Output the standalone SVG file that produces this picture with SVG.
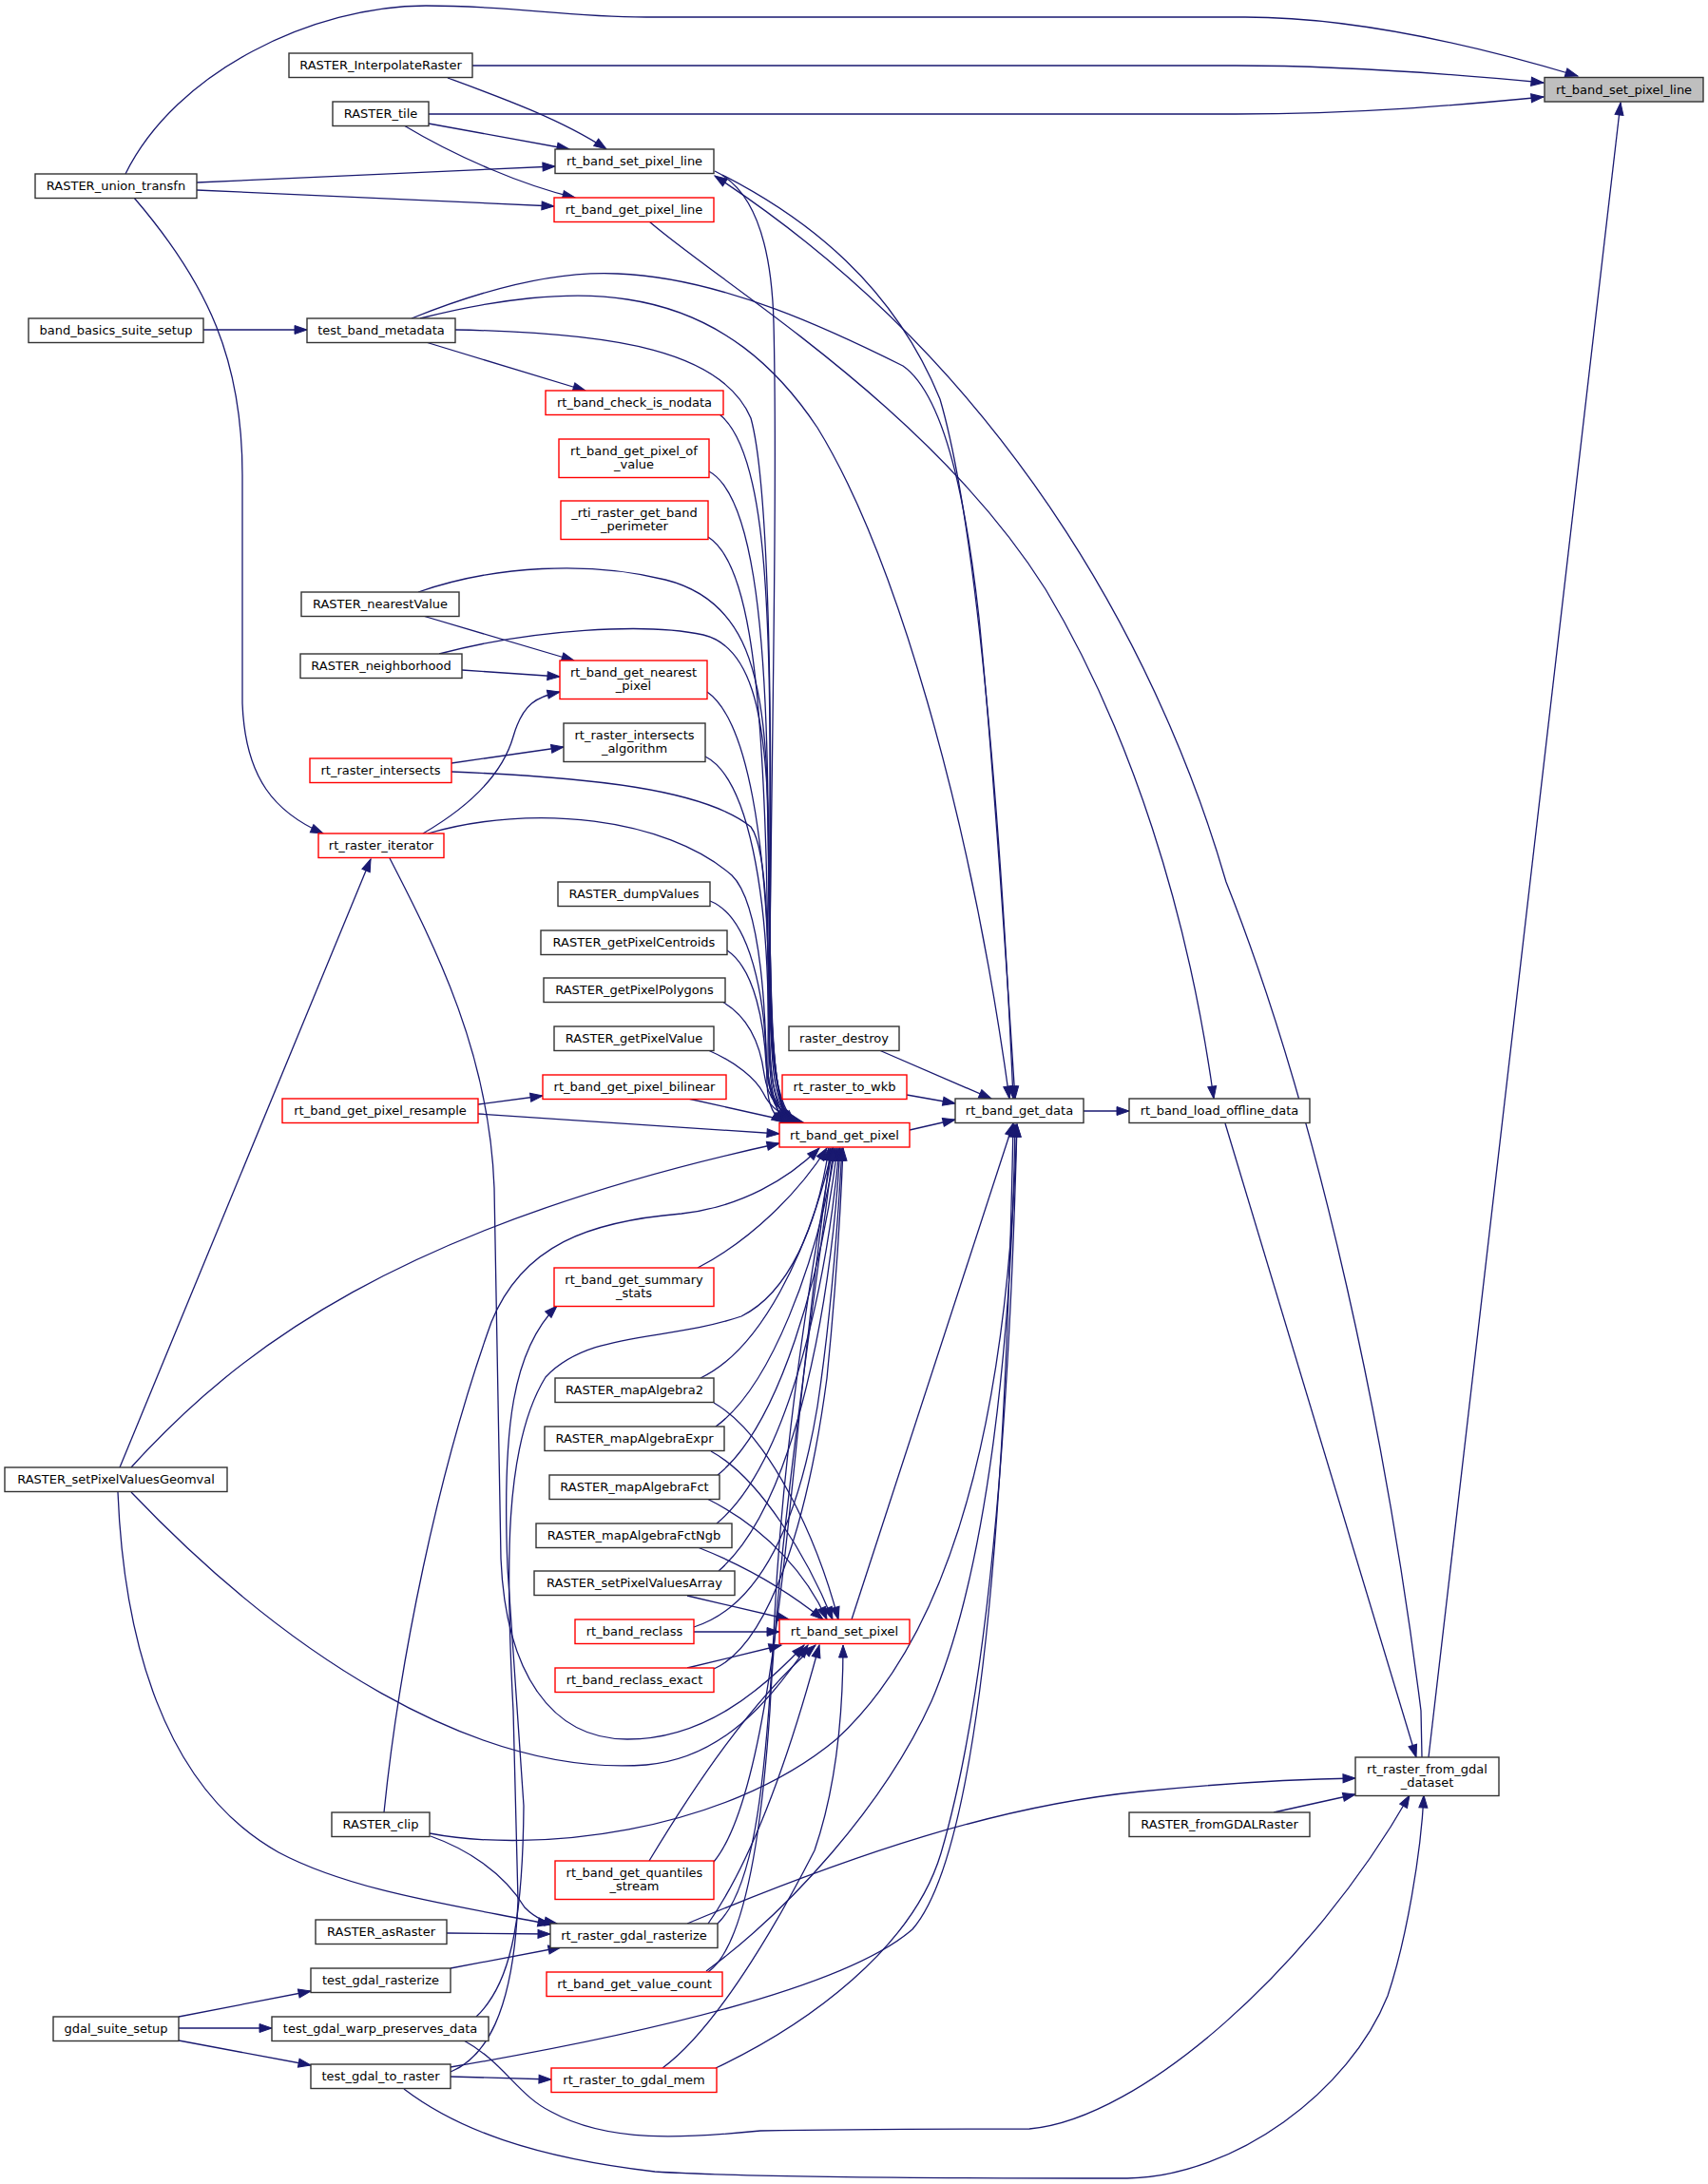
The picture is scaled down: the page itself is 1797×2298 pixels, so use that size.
<svg xmlns="http://www.w3.org/2000/svg" width="1797" height="2298" viewBox="0 0 1797 2298">
<style>
.e{fill:none;stroke:#191970;stroke-width:1.3;marker-end:url(#a)}
.nb{fill:#fff;stroke:#333;stroke-width:1.4}
.nr{fill:#fff;stroke:#ff0000;stroke-width:1.4}
.ng{fill:#bfbfbf;stroke:#333;stroke-width:1.4}
text{font-family:"DejaVu Sans","Liberation Sans",sans-serif;font-size:13px;fill:#000;text-anchor:middle}
</style>
<defs>
<marker id="a" markerUnits="userSpaceOnUse" markerWidth="14" markerHeight="10" refX="13" refY="5" orient="auto" overflow="visible">
<path d="M0,0.5 L13,5 L0,9.5 Z" fill="#191970" stroke="#191970" stroke-width="1"/>
</marker>
</defs>
<rect width="1797" height="2298" fill="#fff"/>
<g id="edges">
<path class="e" d="M132,183 C185,75 330,6 448,6 C545,6 590,18 680,18 L1310,18 C1430,18 1560,50 1660,80"/>
<path class="e" d="M497,69 L1300,69 C1420,69 1530,78 1624,87"/>
<path class="e" d="M451,120 L1300,120 C1430,120 1530,111 1624,102"/>
<path class="e" d="M1503,1849 L1705,108"/>
<path class="e" d="M471,82 C520,100 590,125 638,157"/>
<path class="e" d="M451,130 L599,157"/>
<path class="e" d="M207,192 L584,175"/>
<path class="e" d="M1496,1849 L1495,1800 C1460,1520 1390,1180 1290,928 C1230,720 1080,400 752,185"/>
<path class="e" d="M425,132 C480,165 550,195 605,208"/>
<path class="e" d="M207,200 L583,217"/>
<path class="e" d="M683,233 C760,300 980,430 1100,620 C1190,770 1250,960 1277,1156"/>
<path class="e" d="M752,180 C795,200 812,260 814,340 C818,500 812,800 810,1000 C808,1100 806,1160 826,1181"/>
<path class="e" d="M760,184 C850,230 940,300 989,420 C1030,560 1055,900 1066,1156"/>
<path class="e" d="M1289,1182 L1490,1849"/>
<path class="e" d="M1140,1169 L1188,1169"/>
<path class="e" d="M957,1189 L1005,1178"/>
<path class="e" d="M954,1152 L1005,1161"/>
<path class="e" d="M925,1105 L1043,1156"/>
<path class="e" d="M896,1704 L1066,1182"/>
<path class="e" d="M214,347 L323,347"/>
<path class="e" d="M448,360 L616,411"/>
<path class="e" d="M433,335 C520,300 590,285 650,288 C760,292 880,350 950,385 C1000,420 1020,560 1030,650 C1045,800 1058,1000 1068,1156"/>
<path class="e" d="M442,335 C520,315 600,305 660,315 C760,330 820,390 860,450 C940,580 1020,850 1062,1156"/>
<path class="e" d="M479,347 C650,350 760,370 790,440 C812,520 812,800 810,1000 C808,1100 808,1160 830,1181"/>
<path class="e" d="M757,436 C800,470 810,600 810,800 C810,1000 806,1150 832,1181"/>
<path class="e" d="M746,496 C790,520 806,650 808,850 C810,1050 806,1150 834,1181"/>
<path class="e" d="M745,565 C785,590 800,700 806,900 C810,1050 806,1150 836,1181"/>
<path class="e" d="M440,623 C520,595 620,590 700,610 C780,630 800,700 806,800 C812,950 806,1140 828,1181"/>
<path class="e" d="M445,648 L604,695"/>
<path class="e" d="M462,688 C560,662 680,655 740,668 C790,680 804,750 808,850 C812,1000 806,1140 830,1181"/>
<path class="e" d="M486,705 L589,712"/>
<path class="e" d="M744,728 C790,760 804,900 808,1000 C812,1100 808,1160 836,1181"/>
<path class="e" d="M445,877 C500,845 530,810 540,775 C550,740 565,733 589,728"/>
<path class="e" d="M450,877 C560,845 700,860 770,921 C805,955 806,1100 807,1140 C808,1165 815,1175 825,1181"/>
<path class="e" d="M475,803 L593,786"/>
<path class="e" d="M475,812 C620,818 740,830 790,870 C812,900 808,1050 808,1120 C808,1160 820,1175 834,1181"/>
<path class="e" d="M742,796 C790,820 806,950 808,1050 C810,1120 808,1160 836,1181"/>
<path class="e" d="M747,948 C790,965 804,1050 806,1110 C808,1150 818,1170 838,1181"/>
<path class="e" d="M765,1000 C795,1020 804,1080 806,1120 C808,1155 820,1172 840,1181"/>
<path class="e" d="M760,1054 C788,1070 800,1100 804,1130 C808,1158 822,1173 842,1181"/>
<path class="e" d="M745,1105 C775,1118 795,1135 803,1150 C810,1165 825,1176 845,1181"/>
<path class="e" d="M724,1156 L836,1181"/>
<path class="e" d="M503,1162 L571,1153"/>
<path class="e" d="M503,1172 L820,1193"/>
<path class="e" d="M141,208 C220,300 255,380 255,500 L255,740 C258,820 290,855 340,877"/>
<path class="e" d="M126,1544 L390,904"/>
<path class="e" d="M138,1544 C250,1420 420,1290 820,1203"/>
<path class="e" d="M124,1570 C130,1720 170,1880 293,1949 C370,1990 480,2005 579,2025"/>
<path class="e" d="M138,1570 C300,1740 500,1870 680,1857 C760,1850 810,1790 850,1731"/>
<path class="e" d="M410,903 C460,1000 515,1110 520,1250 L527,1640 C532,1760 580,1830 660,1830 C740,1830 800,1780 846,1731"/>
<path class="e" d="M734,1334 C790,1305 840,1255 870,1208"/>
<path class="e" d="M737,1450 C800,1420 850,1320 876,1208"/>
<path class="e" d="M753,1501 C810,1460 860,1330 879,1208"/>
<path class="e" d="M755,1552 C820,1500 865,1340 881,1208"/>
<path class="e" d="M754,1603 C830,1540 870,1350 883,1208"/>
<path class="e" d="M756,1653 C840,1580 875,1360 884,1208"/>
<path class="e" d="M730,1712 C800,1690 840,1600 860,1480 C875,1380 882,1280 886,1208"/>
<path class="e" d="M751,1756 C810,1730 850,1600 870,1450 C880,1350 885,1260 887,1208"/>
<path class="e" d="M723,1755 L822,1731"/>
<path class="e" d="M730,1717 L820,1717"/>
<path class="e" d="M723,1679 L830,1704"/>
<path class="e" d="M734,1628 C790,1650 830,1675 866,1704"/>
<path class="e" d="M744,1577 C810,1610 850,1660 870,1704"/>
<path class="e" d="M748,1527 C800,1555 850,1640 876,1704"/>
<path class="e" d="M751,1476 C810,1510 860,1620 882,1704"/>
<path class="e" d="M697,2176 C760,2130 830,2000 857,1947 C880,1880 887,1800 887,1731"/>
<path class="e" d="M501,2122 C535,2090 550,2030 551,1900 L534,1650 C528,1500 540,1420 586,1374"/>
<path class="e" d="M474,2180 C510,2165 540,2120 545,2000 L540,1800 C532,1650 530,1520 574,1449 C620,1400 700,1412 780,1385 C830,1360 860,1290 872,1208"/>
<path class="e" d="M404,1907 C420,1750 460,1550 517,1391 C550,1310 620,1285 717,1277 C780,1270 830,1240 862,1208"/>
<path class="e" d="M452,1929 C560,1950 760,1930 880,1830 C1000,1720 1060,1500 1070,1183"/>
<path class="e" d="M453,1932 C490,1945 530,1970 552,2007 C565,2020 575,2022 586,2024"/>
<path class="e" d="M683,1958 C730,1880 790,1790 858,1731"/>
<path class="e" d="M751,1959 C800,1900 820,1700 840,1500 C855,1350 868,1260 874,1208"/>
<path class="e" d="M755,2024 C790,1990 805,1900 815,1700 C825,1500 860,1300 876,1208"/>
<path class="e" d="M745,2024 C790,1960 830,1850 862,1731"/>
<path class="e" d="M723,2024 C900,1950 1050,1900 1200,1885 C1300,1875 1370,1872 1426,1871"/>
<path class="e" d="M743,2074 C830,2010 930,1900 980,1790 C1040,1650 1065,1400 1068,1183"/>
<path class="e" d="M745,2075 C780,2050 800,1950 810,1800 C820,1600 860,1350 877,1208"/>
<path class="e" d="M753,2176 C850,2130 960,2050 990,1950 C1040,1780 1062,1500 1070,1183"/>
<path class="e" d="M474,2175 C620,2150 880,2100 960,2030 C1030,1950 1058,1600 1066,1183"/>
<path class="e" d="M474,2185 L580,2188"/>
<path class="e" d="M425,2198 C480,2240 560,2270 689,2285 C800,2292 1100,2292 1186,2292 C1300,2290 1420,2200 1460,2100 C1480,2040 1495,1950 1498,1889"/>
<path class="e" d="M488,2147 C530,2170 545,2205 580,2222 C640,2255 720,2250 800,2242 C900,2240 1000,2240 1083,2240 C1200,2230 1380,2070 1483,1889"/>
<path class="e" d="M188,2122 L327,2095"/>
<path class="e" d="M188,2134 L286,2134"/>
<path class="e" d="M188,2147 L327,2173"/>
<path class="e" d="M474,2071 L590,2049"/>
<path class="e" d="M470,2034 L579,2035"/>
<path class="e" d="M1340,1907 L1426,1888"/>
</g>
<g id="n_G"><rect class="ng" x="1625" y="81.5" width="167" height="25.5"/><text x="1708.5" y="98.5">rt_band_set_pixel_line</text></g>
<g id="n_IR"><rect class="nb" x="304" y="56" width="193" height="25.5"/><text x="400.5" y="73">RASTER_InterpolateRaster</text></g>
<g id="n_TL"><rect class="nb" x="350" y="107" width="101" height="25.5"/><text x="400.5" y="124">RASTER_tile</text></g>
<g id="n_W"><rect class="nb" x="584" y="157" width="167" height="25.5"/><text x="667.5" y="174">rt_band_set_pixel_line</text></g>
<g id="n_UT"><rect class="nb" x="37" y="183" width="170" height="25.5"/><text x="122" y="200">RASTER_union_transfn</text></g>
<g id="n_GPL"><rect class="nr" x="583" y="208" width="168" height="25.5"/><text x="667" y="225">rt_band_get_pixel_line</text></g>
<g id="n_BB"><rect class="nb" x="30" y="335" width="184" height="25.5"/><text x="122" y="352">band_basics_suite_setup</text></g>
<g id="n_TBM"><rect class="nb" x="323" y="335" width="156" height="25.5"/><text x="401" y="352">test_band_metadata</text></g>
<g id="n_CN"><rect class="nr" x="574" y="411" width="187" height="25.5"/><text x="667.5" y="428">rt_band_check_is_nodata</text></g>
<g id="n_POV"><rect class="nr" x="588" y="462" width="158" height="40.5"/><text x="667" y="478.5">rt_band_get_pixel_of</text><text x="667" y="492.5">_value</text></g>
<g id="n_PER"><rect class="nr" x="590" y="527" width="155" height="40.5"/><text x="667.5" y="543.5">_rti_raster_get_band</text><text x="667.5" y="557.5">_perimeter</text></g>
<g id="n_NV"><rect class="nb" x="317" y="623" width="166" height="25.5"/><text x="400" y="640">RASTER_nearestValue</text></g>
<g id="n_NB"><rect class="nb" x="316" y="688" width="170" height="25.5"/><text x="401" y="705">RASTER_neighborhood</text></g>
<g id="n_NP"><rect class="nr" x="589" y="695" width="155" height="40.5"/><text x="666.5" y="711.5">rt_band_get_nearest</text><text x="666.5" y="725.5">_pixel</text></g>
<g id="n_IA"><rect class="nb" x="593" y="761" width="149" height="40.5"/><text x="667.5" y="777.5">rt_raster_intersects</text><text x="667.5" y="791.5">_algorithm</text></g>
<g id="n_RI"><rect class="nr" x="326" y="798" width="149" height="25.5"/><text x="400.5" y="815">rt_raster_intersects</text></g>
<g id="n_IT"><rect class="nr" x="335" y="877" width="132" height="25.5"/><text x="401" y="894">rt_raster_iterator</text></g>
<g id="n_DV"><rect class="nb" x="587" y="928" width="160" height="25.5"/><text x="667" y="945">RASTER_dumpValues</text></g>
<g id="n_PC"><rect class="nb" x="569" y="979" width="196" height="25.5"/><text x="667" y="996">RASTER_getPixelCentroids</text></g>
<g id="n_PP"><rect class="nb" x="572" y="1029" width="191" height="25.5"/><text x="667.5" y="1046">RASTER_getPixelPolygons</text></g>
<g id="n_PV"><rect class="nb" x="583" y="1080" width="168" height="25.5"/><text x="667" y="1097">RASTER_getPixelValue</text></g>
<g id="n_RD"><rect class="nb" x="830" y="1080" width="116" height="25.5"/><text x="888" y="1097">raster_destroy</text></g>
<g id="n_WKB"><rect class="nr" x="823" y="1131" width="131" height="25.5"/><text x="888.5" y="1148">rt_raster_to_wkb</text></g>
<g id="n_BIL"><rect class="nr" x="571" y="1131" width="193" height="25.5"/><text x="667.5" y="1148">rt_band_get_pixel_bilinear</text></g>
<g id="n_RES"><rect class="nr" x="297" y="1156" width="206" height="25.5"/><text x="400" y="1173">rt_band_get_pixel_resample</text></g>
<g id="n_GD"><rect class="nb" x="1005" y="1156" width="135" height="25.5"/><text x="1072.5" y="1173">rt_band_get_data</text></g>
<g id="n_LOD"><rect class="nb" x="1188" y="1156" width="190" height="25.5"/><text x="1283" y="1173">rt_band_load_offline_data</text></g>
<g id="n_P"><rect class="nr" x="820" y="1181.5" width="137" height="25.5"/><text x="888.5" y="1198.5">rt_band_get_pixel</text></g>
<g id="n_SS"><rect class="nr" x="583" y="1334" width="168" height="40.5"/><text x="667" y="1350.5">rt_band_get_summary</text><text x="667" y="1364.5">_stats</text></g>
<g id="n_MA2"><rect class="nb" x="584" y="1450" width="167" height="25.5"/><text x="667.5" y="1467">RASTER_mapAlgebra2</text></g>
<g id="n_MAE"><rect class="nb" x="573" y="1501" width="189" height="25.5"/><text x="667.5" y="1518">RASTER_mapAlgebraExpr</text></g>
<g id="n_MAF"><rect class="nb" x="578" y="1552" width="179" height="25.5"/><text x="667.5" y="1569">RASTER_mapAlgebraFct</text></g>
<g id="n_GEO"><rect class="nb" x="5" y="1544" width="234" height="25.5"/><text x="122" y="1561">RASTER_setPixelValuesGeomval</text></g>
<g id="n_MAN"><rect class="nb" x="564" y="1603" width="206" height="25.5"/><text x="667" y="1620">RASTER_mapAlgebraFctNgb</text></g>
<g id="n_SPA"><rect class="nb" x="562" y="1653" width="211" height="25.5"/><text x="667.5" y="1670">RASTER_setPixelValuesArray</text></g>
<g id="n_RC"><rect class="nr" x="605" y="1704" width="125" height="25.5"/><text x="667.5" y="1721">rt_band_reclass</text></g>
<g id="n_SP"><rect class="nr" x="820" y="1704" width="137" height="25.5"/><text x="888.5" y="1721">rt_band_set_pixel</text></g>
<g id="n_RCE"><rect class="nr" x="584" y="1755" width="167" height="25.5"/><text x="667.5" y="1772">rt_band_reclass_exact</text></g>
<g id="n_FG"><rect class="nb" x="1426" y="1849" width="151" height="40.5"/><text x="1501.5" y="1865.5">rt_raster_from_gdal</text><text x="1501.5" y="1879.5">_dataset</text></g>
<g id="n_FGR"><rect class="nb" x="1188" y="1907" width="190" height="25.5"/><text x="1283" y="1924">RASTER_fromGDALRaster</text></g>
<g id="n_CLIP"><rect class="nb" x="349" y="1907" width="103" height="25.5"/><text x="400.5" y="1924">RASTER_clip</text></g>
<g id="n_QS"><rect class="nr" x="584" y="1958" width="167" height="40.5"/><text x="667.5" y="1974.5">rt_band_get_quantiles</text><text x="667.5" y="1988.5">_stream</text></g>
<g id="n_ASR"><rect class="nb" x="332" y="2020" width="138" height="25.5"/><text x="401" y="2037">RASTER_asRaster</text></g>
<g id="n_GR"><rect class="nb" x="579" y="2024" width="176" height="25.5"/><text x="667" y="2041">rt_raster_gdal_rasterize</text></g>
<g id="n_TGR"><rect class="nb" x="327" y="2071" width="147" height="25.5"/><text x="400.5" y="2088">test_gdal_rasterize</text></g>
<g id="n_VC"><rect class="nr" x="575" y="2075" width="185" height="25.5"/><text x="667.5" y="2092">rt_band_get_value_count</text></g>
<g id="n_GSS"><rect class="nb" x="56" y="2122" width="132" height="25.5"/><text x="122" y="2139">gdal_suite_setup</text></g>
<g id="n_TGW"><rect class="nb" x="286" y="2122" width="228" height="25.5"/><text x="400" y="2139">test_gdal_warp_preserves_data</text></g>
<g id="n_TGT"><rect class="nb" x="327" y="2172" width="147" height="25.5"/><text x="400.5" y="2189">test_gdal_to_raster</text></g>
<g id="n_TGM"><rect class="nr" x="580" y="2176" width="174" height="25.5"/><text x="667" y="2193">rt_raster_to_gdal_mem</text></g>
</svg>
